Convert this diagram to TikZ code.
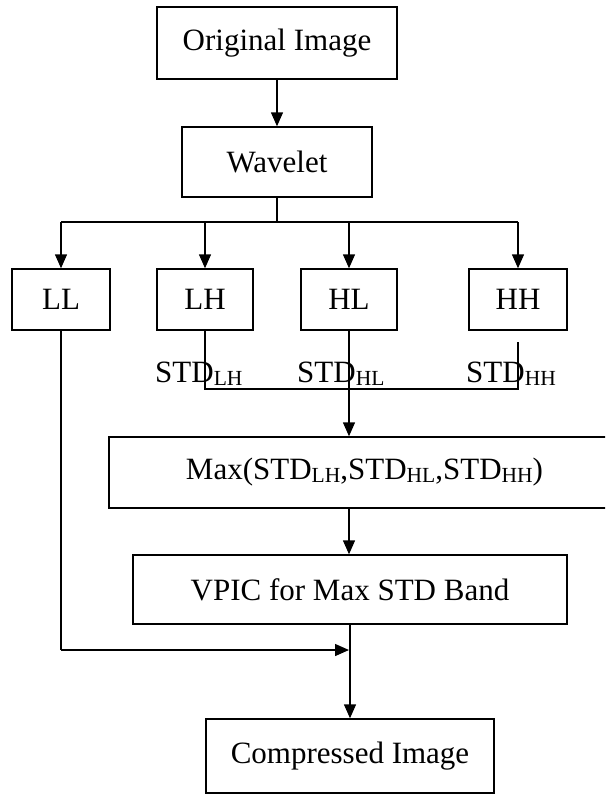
\documentclass[tikz,border=0pt]{standalone}
\usepackage{fontspec}
\setmainfont{Liberation Serif}
\usetikzlibrary{arrows.meta,calc}
\newcommand{\sbx}[1]{\raisebox{-3pt}{\fontsize{21.5}{21.5}\selectfont #1}}
\begin{document}
\begin{tikzpicture}[x=1pt,y=-1pt,
  box/.style={draw, line width=1.4pt, inner sep=0pt, font=\fontsize{31}{31}\selectfont},
  lbl/.style={inner sep=0pt, anchor=base west, font=\fontsize{31}{31}\selectfont},
  conn/.style={line width=1.4pt},
  arr/.style={line width=1.4pt, -{Triangle[length=14pt,width=12pt]}}]
\useasboundingbox (0,0) rectangle (605,795);
\clip (0,0) rectangle (605,795);
\node[box, minimum width=240pt, minimum height=72pt] (orig) at (277,43) {Original Image};
\node[box, minimum width=190pt, minimum height=70pt] (wav) at (277,162) {Wavelet};
\node[box, minimum width=98pt, minimum height=61pt] (LL) at (61,299.5) {LL};
\node[box, minimum width=96pt, minimum height=61pt] (LH) at (205,299.5) {LH};
\node[box, minimum width=96pt, minimum height=61pt] (HL) at (349,299.5) {HL};
\node[box, minimum width=98pt, minimum height=61pt] (HH) at (518,299.5) {HH};
\node[box, minimum width=511pt, minimum height=71pt] (max) at (364.5,472.5) {Max(STD\sbx{LH},STD\sbx{HL},STD\sbx{HH})};
\node[box, minimum width=434pt, minimum height=69pt] (vpic) at (350,589.5) {VPIC for Max STD Band};
\node[box, minimum width=288pt, minimum height=74pt] (comp) at (350,756) {Compressed Image};
\node[lbl] (sLH) at (155,382) {STD\sbx{LH}};
\node[lbl] (sHL) at (297,382) {STD\sbx{HL}};
\node[lbl] (sHH) at (466,382) {STD\sbx{HH}};
\coordinate (br) at (277,222);
\coordinate (jn) at (349,389);
\coordinate (hht) at (518,342);
\coordinate (mrg) at (349,650);
\draw[arr] (orig) -- (wav);
\draw[conn] (wav.south) -- (br);
\draw[conn] (LL.north |- br) -- (HH.north |- br);
\foreach \b in {LL,LH,HL,HH} \draw[arr] (\b.north |- br) -- (\b.north);
\draw[conn] (LH.south) -- (LH.south |- jn) -- (HH.south |- jn) -- (hht);
\draw[arr] (HL.south) -- (HL.south |- max.north);
\draw[arr] (HL.south |- max.south) -- (HL.south |- vpic.north);
\draw[conn] (LL.south) -- (LL.south |- mrg);
\draw[arr] (LL.south |- mrg) -- (mrg);
\draw[arr] (vpic.south) -- (comp.north);
\end{tikzpicture}
\end{document}
